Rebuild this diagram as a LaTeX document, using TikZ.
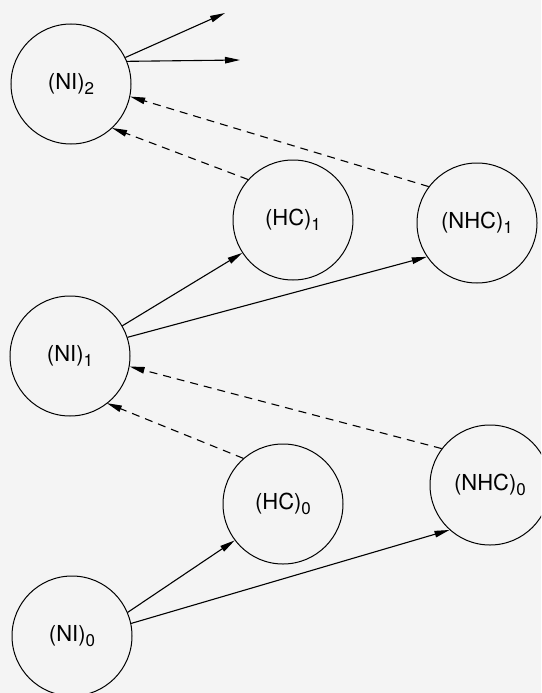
\documentclass[tikz,border=0pt]{standalone}
\usepackage{fontspec}
\setmainfont{TeX Gyre Heros}
\usetikzlibrary{arrows.meta}
\definecolor{paper}{RGB}{244,244,244}
\newcommand\idx[1]{\raisebox{-5pt}{\fontsize{17}{20}\selectfont #1}}

\begin{document}
\begin{tikzpicture}[x=1pt,y=-1pt,
    state/.style={draw,circle,line width=1pt,minimum size=120pt,inner sep=0pt,
                  font=\fontsize{22}{26}\selectfont},
    feed/.style={line width=1.1pt,-{Triangle[length=15pt,width=6.5pt]}},
    back/.style={feed,dash pattern=on 8pt off 6pt}]

\fill[paper] (0,0) rectangle (541,693);
\clip (0,0) rectangle (541,693);

\node[state] (ni2)  at (71,84)   {(NI)\idx{2}};
\node[state] (hc1)  at (293,220) {(HC)\idx{1}};
\node[state] (nhc1) at (477,223) {(NHC)\idx{1}};
\node[state] (ni1)  at (70,356)  {(NI)\idx{1}};
\node[state] (hc0)  at (283,504) {(HC)\idx{0}};
\node[state] (nhc0) at (490,485) {(NHC)\idx{0}};
\node[state] (ni0)  at (72,636)  {(NI)\idx{0}};

\coordinate (out1) at (225,13);
\coordinate (out2) at (240,60);

% forward
\draw[feed] (ni2.26) -- (out1);
\draw[feed] (ni2.22) -- (out2);
\draw[feed] (ni1.30) -- (hc1.213);
\draw[feed] (ni1.18) -- (nhc1.214);
\draw[feed] (ni0.23) -- (hc0.217);
\draw[feed] (ni0.12) -- (nhc0.228);

% backward
\draw[back] (hc1.138)  -- ([shift={(3pt,3pt)}]ni2.-51);
\draw[back] (nhc1.143) -- (ni2.-12);
\draw[back] (hc0.131)  -- ([shift={(3pt,3pt)}]ni1.-56);
\draw[back] (nhc0.143) -- (ni1.-10);

\end{tikzpicture}
\end{document}
